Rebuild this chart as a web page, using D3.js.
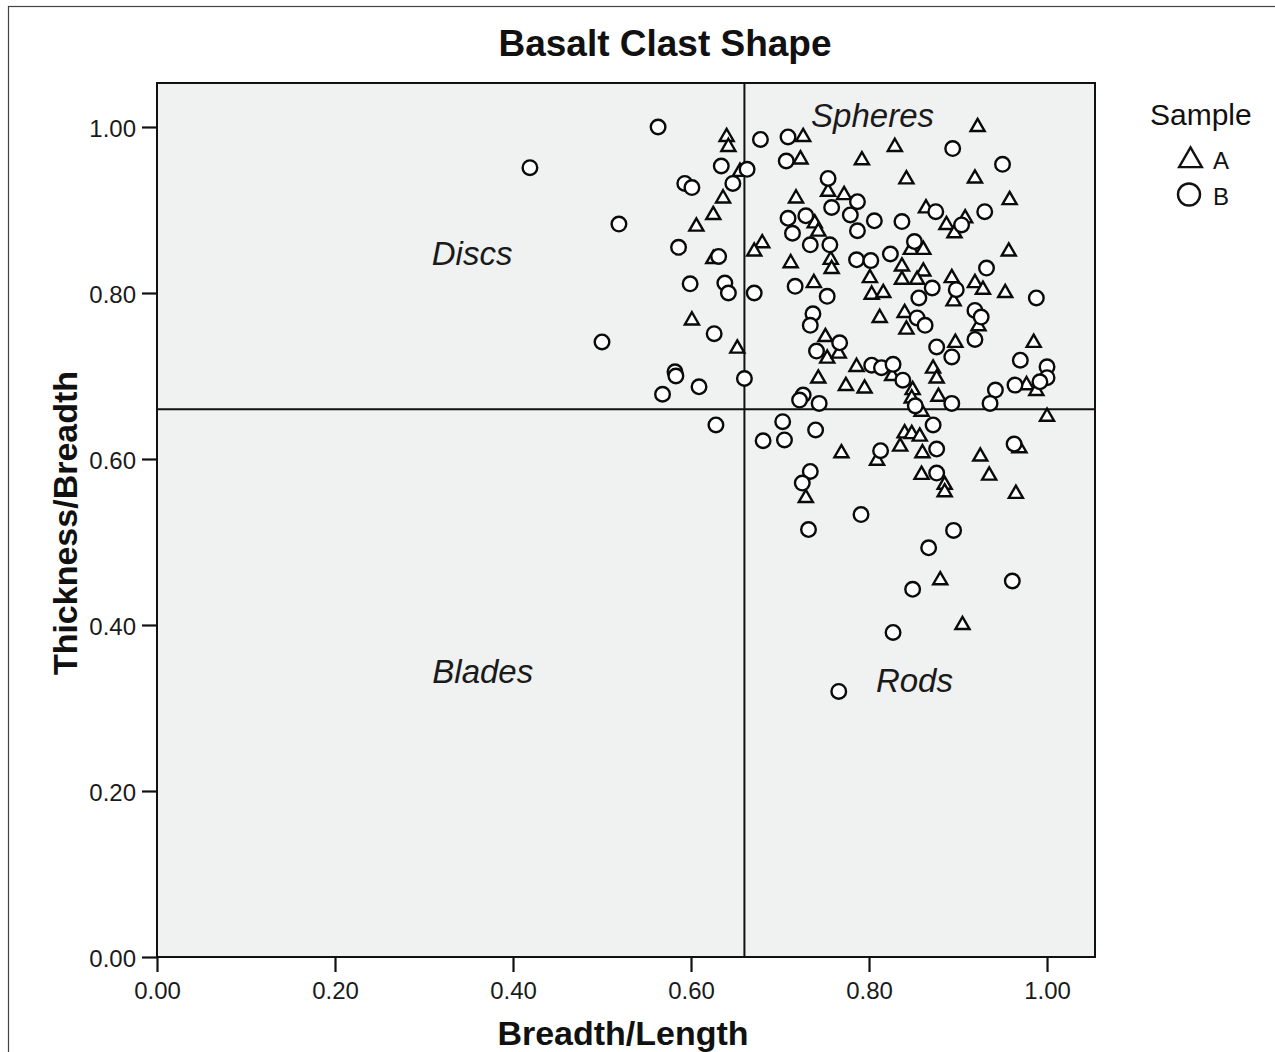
<!DOCTYPE html>
<html>
<head>
<meta charset="utf-8">
<script src="https://cdn.jsdelivr.net/npm/d3@7"></script>
<style>
  body { margin: 0; background: #fff; }
  svg text { font-family: "Liberation Sans", Arial, Helvetica, sans-serif; }
</style>
</head>
<body>
<svg id="chart" width="1275" height="1052"></svg>
<script>
// ---------------- data ----------------
const chartTitle = "Basalt Clast Shape";
const xTitle = "Breadth/Length";
const yTitle = "Thickness/Breadth";
const legendTitle = "Sample";
const seriesNames = ["A", "B"];
const tickValues = [0, 0.2, 0.4, 0.6, 0.8, 1.0];
const refX = 0.66;
const refY = 0.66;

// Sample A (triangles)
const sampleA_x = [0.640,0.642,0.655,0.636,0.625,0.606,0.625,0.601,0.652,0.726,0.723,0.792,0.829,0.842,0.754,0.772,0.718,0.739,0.743,0.680,
  0.671,0.712,0.757,0.758,0.837,0.801,0.837,0.864,0.847,0.861,0.861,0.854,0.738,0.803,0.816,0.922,0.919,0.958,0.887,0.896,
  0.908,0.957,0.893,0.919,0.928,0.953,0.895,0.812,0.840,0.842,0.751,0.753,0.766,0.786,0.743,0.774,0.795,0.826,0.872,0.876,
  0.849,0.848,0.859,0.878,0.840,0.848,0.857,0.835,0.860,0.769,0.809,0.859,0.923,0.897,0.985,0.977,0.988,1.000,0.969,0.925,
  0.935,0.885,0.965,0.729,0.885,0.880,0.905];
const sampleA_y = [0.988,0.976,0.946,0.914,0.894,0.880,0.841,0.767,0.733,0.988,0.961,0.960,0.976,0.937,0.922,0.918,0.914,0.884,0.874,0.860,
  0.850,0.836,0.840,0.829,0.832,0.818,0.816,0.902,0.852,0.852,0.826,0.816,0.812,0.798,0.800,1.000,0.938,0.912,0.882,0.872,
  0.890,0.850,0.818,0.812,0.804,0.800,0.790,0.770,0.776,0.756,0.747,0.721,0.727,0.711,0.697,0.688,0.685,0.700,0.709,0.697,
  0.683,0.673,0.657,0.675,0.631,0.630,0.627,0.615,0.607,0.607,0.598,0.581,0.760,0.740,0.740,0.689,0.682,0.651,0.613,0.603,
  0.580,0.569,0.558,0.553,0.560,0.454,0.400];

// Sample B (circles)
const sampleB_x = [0.563,0.419,0.634,0.663,0.593,0.601,0.647,0.519,0.586,0.631,0.599,0.638,0.642,0.671,0.626,0.500,0.582,0.583,0.609,0.568,
  0.660,0.628,0.678,0.709,0.707,0.754,0.758,0.787,0.779,0.709,0.729,0.714,0.787,0.806,0.837,0.734,0.756,0.786,0.802,0.824,
  0.851,0.875,0.871,0.717,0.753,0.856,0.894,0.950,0.930,0.904,0.932,0.898,0.988,0.737,0.734,0.767,0.741,0.803,0.814,0.827,
  0.838,0.854,0.863,0.876,0.726,0.722,0.744,0.852,0.872,0.703,0.681,0.705,0.740,0.813,0.876,0.876,0.734,0.725,0.919,0.926,
  0.919,0.893,0.970,1.000,1.000,0.992,0.964,0.942,0.936,0.893,0.963,0.791,0.732,0.895,0.867,0.849,0.827,0.766,0.961];
const sampleB_y = [1.000,0.951,0.953,0.949,0.932,0.927,0.932,0.883,0.855,0.844,0.811,0.812,0.800,0.800,0.751,0.741,0.705,0.700,0.687,0.678,
  0.697,0.641,0.985,0.988,0.959,0.938,0.903,0.910,0.894,0.890,0.893,0.872,0.875,0.887,0.886,0.858,0.858,0.840,0.839,0.847,
  0.862,0.898,0.806,0.808,0.796,0.794,0.974,0.955,0.898,0.882,0.830,0.804,0.794,0.775,0.761,0.740,0.730,0.713,0.710,0.714,
  0.695,0.770,0.761,0.735,0.677,0.671,0.667,0.664,0.641,0.645,0.622,0.623,0.635,0.610,0.612,0.583,0.585,0.571,0.779,0.771,
  0.744,0.723,0.719,0.711,0.698,0.693,0.689,0.683,0.667,0.667,0.618,0.533,0.515,0.514,0.493,0.443,0.391,0.320,0.453];

// quadrant annotation labels (text + anchor in data units)
const quadText = ["Spheres", "Discs", "Blades", "Rods"];
const quadX = [0.804, 0.354, 0.366, 0.851];
const quadY = [1.000, 0.834, 0.330, 0.319];

// ---------------- drawing ----------------
const svg = d3.select("#chart");
const plot = { left: 157, right: 1095, top: 83, bottom: 957 };

const x = d3.scaleLinear().domain([0, 1.0539]).range([plot.left, plot.right]);
const y = d3.scaleLinear().domain([0, 1.053]).range([plot.bottom, plot.top]);

// outer frame
svg.append("rect")
  .attr("x", 8.5).attr("y", 6.5).attr("width", 1400).attr("height", 1200)
  .attr("fill", "#fff").attr("stroke", "#444").attr("stroke-width", 1.2);

// plot background
svg.append("rect")
  .attr("x", plot.left).attr("y", plot.top)
  .attr("width", plot.right - plot.left).attr("height", plot.bottom - plot.top)
  .attr("fill", "#f0f1f1");

// reference lines
svg.append("line")
  .attr("x1", x(refX)).attr("x2", x(refX))
  .attr("y1", plot.top).attr("y2", plot.bottom)
  .attr("stroke", "#111").attr("stroke-width", 2);
svg.append("line")
  .attr("x1", plot.left).attr("x2", plot.right)
  .attr("y1", y(refY)).attr("y2", y(refY))
  .attr("stroke", "#111").attr("stroke-width", 2);

// quadrant labels
svg.append("g").selectAll("text")
  .data(quadText.map((t, i) => ({ t, x: quadX[i], y: quadY[i] })))
  .join("text")
  .attr("x", d => x(d.x)).attr("y", d => y(d.y))
  .attr("text-anchor", "middle")
  .attr("font-size", 33).attr("font-style", "italic")
  .attr("fill", "#1a1a1a")
  .text(d => d.t);

// points
const dataA = sampleA_x.map((v, i) => ({ x: v, y: sampleA_y[i] }));
const dataB = sampleB_x.map((v, i) => ({ x: v, y: sampleB_y[i] }));

const tri = d3.symbol().type(d3.symbolTriangle).size(86);
svg.append("g").selectAll("path")
  .data(dataA).join("path")
  .attr("d", tri)
  .attr("transform", d => `translate(${x(d.x)},${y(d.y)})`)
  .attr("fill", "#fff").attr("stroke", "#0a0a0a").attr("stroke-width", 2.4)
  .attr("stroke-linejoin", "miter");

svg.append("g").selectAll("circle")
  .data(dataB).join("circle")
  .attr("cx", d => x(d.x)).attr("cy", d => y(d.y)).attr("r", 7.3)
  .attr("fill", "#fff").attr("stroke", "#0a0a0a").attr("stroke-width", 2.4);

// plot frame
svg.append("rect")
  .attr("x", plot.left).attr("y", plot.top)
  .attr("width", plot.right - plot.left).attr("height", plot.bottom - plot.top)
  .attr("fill", "none").attr("stroke", "#111").attr("stroke-width", 2);

// axes
const fmt = d3.format(".2f");
const yAxis = svg.append("g")
  .attr("transform", `translate(${plot.left},0)`)
  .call(d3.axisLeft(y).tickValues(tickValues).tickFormat(fmt).tickSize(15).tickPadding(6));
const xAxis = svg.append("g")
  .attr("transform", `translate(0,${plot.bottom})`)
  .call(d3.axisBottom(x).tickValues(tickValues).tickFormat(fmt).tickSize(15).tickPadding(10));
[xAxis, yAxis].forEach(g => {
  g.select(".domain").remove();
  g.selectAll(".tick line").attr("stroke", "#111").attr("stroke-width", 2.2);
  g.selectAll(".tick text").attr("font-size", 24).attr("fill", "#1a1a1a")
    .style("font-family", "'Liberation Sans', Arial, sans-serif");
});
yAxis.selectAll(".tick text").attr("dy", "0.4em");

// titles
svg.append("text")
  .attr("x", 665).attr("y", 56)
  .attr("text-anchor", "middle").attr("font-size", 37).attr("font-weight", "bold")
  .attr("fill", "#111").text(chartTitle);

svg.append("text")
  .attr("x", 623).attr("y", 1045)
  .attr("text-anchor", "middle").attr("font-size", 34).attr("font-weight", "bold")
  .attr("fill", "#111").text(xTitle);

svg.append("text")
  .attr("transform", `translate(77,523) rotate(-90)`)
  .attr("text-anchor", "middle").attr("font-size", 34).attr("font-weight", "bold")
  .attr("fill", "#111").text(yTitle);

// legend
const lg = svg.append("g");
lg.append("text").attr("x", 1150).attr("y", 125)
  .attr("font-size", 30).attr("fill", "#111").text(legendTitle);
lg.append("path")
  .attr("d", d3.symbol().type(d3.symbolTriangle).size(225)())
  .attr("transform", "translate(1190.5,160.5)")
  .attr("fill", "#fff").attr("stroke", "#111").attr("stroke-width", 2.4);
lg.append("circle").attr("cx", 1189).attr("cy", 194.5).attr("r", 11)
  .attr("fill", "#fff").attr("stroke", "#111").attr("stroke-width", 2.4);
lg.selectAll("text.item")
  .data(seriesNames).join("text").attr("class", "item")
  .attr("x", 1213).attr("y", (d, i) => 169 + i * 36)
  .attr("font-size", 24).attr("fill", "#111").text(d => d);
</script>
</body>
</html>
